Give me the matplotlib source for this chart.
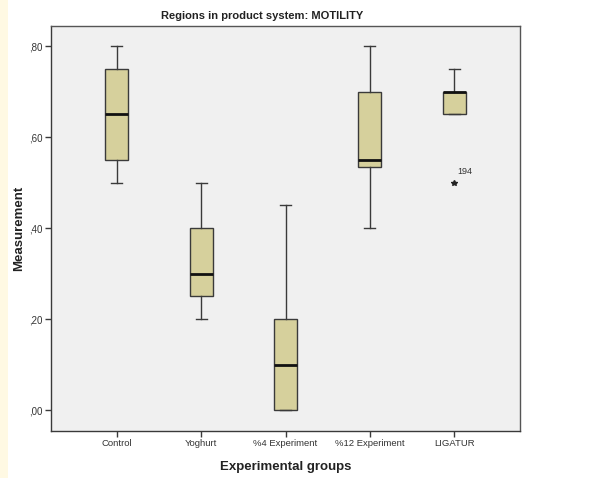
import matplotlib
matplotlib.use("Agg")
import matplotlib.pyplot as plt
import matplotlib.patches as mpatches

plt.rcParams['font.family'] = ['Liberation Sans Narrow', 'Liberation Sans', 'DejaVu Sans']

# Box summary per group
groups = ["Control", "Yoghurt", "%4 Experiment", "%12 Experiment", "LIGATUR"]
whisker_low = [0.50, 0.20, 0.00, 0.40, 0.65]
q1 = [0.55, 0.25, 0.00, 0.535, 0.65]
medians = [0.65, 0.30, 0.10, 0.55, 0.70]
q3 = [0.75, 0.40, 0.20, 0.70, 0.70]
whisker_high = [0.80, 0.50, 0.45, 0.80, 0.75]
outliers = [[], [], [], [], [0.50]]
outlier_ids = [[], [], [], [], ["194"]]

y_ticks = [0.0, 0.2, 0.4, 0.6, 0.8]
y_tick_labels = [",00", ",20", ",40", ",60", ",80"]

box_color = "#D6D09C"
edge_color = "#3a3a3a"

fig = plt.figure(figsize=(6.12, 4.78), dpi=100)
fig.patch.set_facecolor("white")

# pale strip on the left edge
fig.patches.append(mpatches.Rectangle((0, 0), 8 / 612, 1, transform=fig.transFigure,
                                      facecolor="#FFF9E3", edgecolor="none", zorder=0))

ax = fig.add_axes([51 / 612, 47 / 478, 469 / 612, 405 / 478])
ax.set_facecolor("#F0F0F0")

stats = []
for i, g in enumerate(groups):
    stats.append({
        "label": g,
        "whislo": whisker_low[i],
        "q1": q1[i],
        "med": medians[i],
        "q3": q3[i],
        "whishi": whisker_high[i],
        "fliers": outliers[i],
    })

ax.bxp(stats, positions=range(1, len(groups) + 1), widths=0.27, patch_artist=True,
       showfliers=False,
       boxprops=dict(facecolor=box_color, edgecolor=edge_color, linewidth=1.0),
       medianprops=dict(color="#111111", linewidth=2.0),
       whiskerprops=dict(color=edge_color, linewidth=1.0),
       capprops=dict(color=edge_color, linewidth=1.0),
       capwidths=0.13)

# outliers drawn as stars with case ids
for i, (vals, ids) in enumerate(zip(outliers, outlier_ids)):
    for v, lab in zip(vals, ids):
        ax.plot(i + 1, v, marker="*", color="#222222", markersize=4, linestyle="none")
        ax.annotate(lab, (i + 1, v), xytext=(2, 6), textcoords="offset points",
                    fontsize=6.5, color="#333333")

ax.set_xlim(0.22, 5.78)
ax.set_ylim(-0.046, 0.844)
ax.set_yticks(y_ticks)
ax.set_yticklabels(y_tick_labels, fontsize=7, color="#333333")
ax.set_xticks(range(1, len(groups) + 1))
ax.set_xticklabels(groups, fontsize=6.8, color="#333333")
ax.tick_params(axis="both", length=4, width=1, color=edge_color, pad=2)

for s in ax.spines.values():
    s.set_color("#555555")
    s.set_linewidth(1.0)
ax.spines["left"].set_color(edge_color)
ax.spines["bottom"].set_color(edge_color)

fig.text(262 / 612, 1 - 16 / 478, "Regions in product system: MOTILITY", ha="center",
         va="center", fontsize=8, fontweight="bold", color="#222222")
fig.text(286 / 612, 1 - 467 / 478, "Experimental groups", ha="center", va="center",
         fontsize=9.5, fontweight="bold", color="#222222")
fig.text(19 / 612, 1 - 228 / 478, "Measurement", ha="center", va="center", rotation=90,
         fontsize=9.5, fontweight="bold", color="#222222")

fig.savefig("out.png", dpi=100)
